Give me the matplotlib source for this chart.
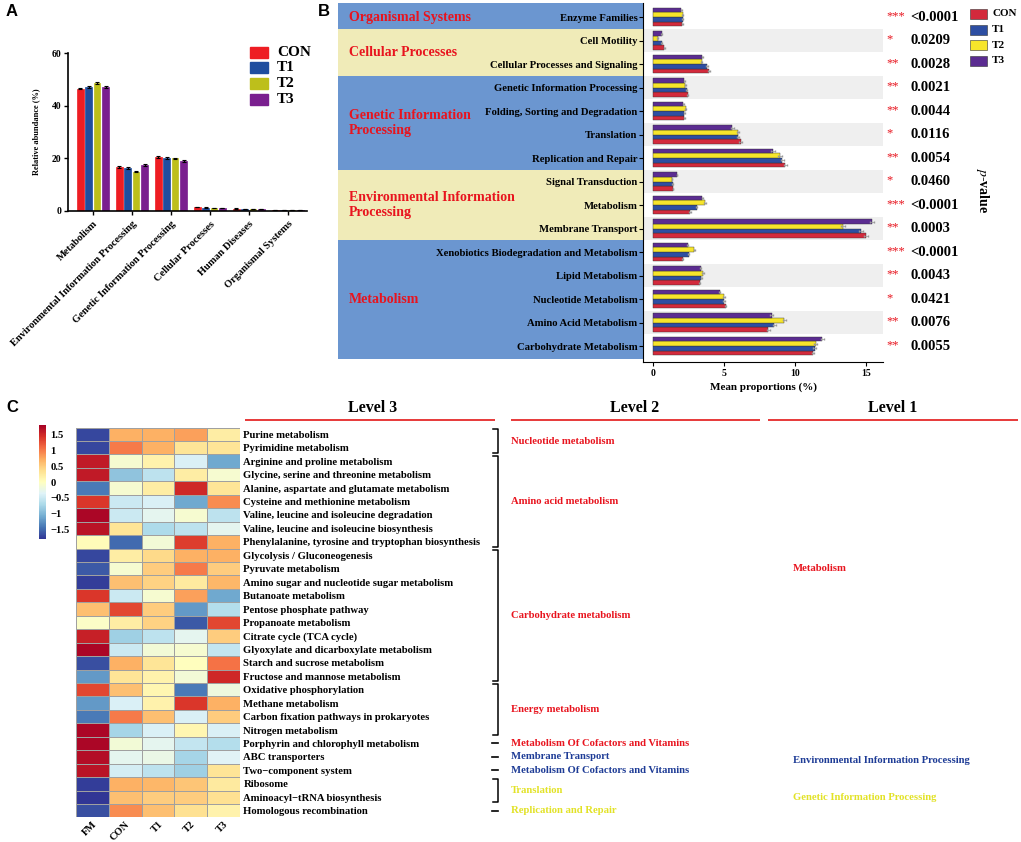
import matplotlib
matplotlib.use('Agg')
import matplotlib.pyplot as plt
import numpy as np
from matplotlib import transforms
from matplotlib.patches import Rectangle

W, H = 1021, 842
plt.rcParams['font.family'] = ['Liberation Serif', 'DejaVu Serif']
plt.rcParams['mathtext.fontset'] = 'stix'
plt.rcParams['axes.unicode_minus'] = True

# ---------------- Panel A data ----------------
groups = ['CON', 'T1', 'T2', 'T3']
a_categories = ['Metabolism', 'Environmental Information Processing',
                'Genetic Information Processing', 'Cellular Processes',
                'Human Diseases', 'Organismal Systems']
a_con = [46.5, 16.7, 20.5, 1.5, 0.9, 0.4]
a_t1 = [47.0, 16.3, 20.1, 1.3, 0.8, 0.4]
a_t2 = [48.5, 15.0, 20.0, 1.1, 0.8, 0.3]
a_t3 = [47.1, 17.5, 19.0, 1.1, 0.8, 0.4]
a_err = [0.3, 0.3, 0.3, 0.1, 0.05, 0.05]
a_colors = ['#EE1D23', '#1F4E9F', '#BDBF1B', '#7A1F8F']

# ---------------- Panel B data ----------------
b_rows = ['Enzyme Families', 'Cell Motility', 'Cellular Processes and Signaling',
          'Genetic Information Processing', 'Folding, Sorting and Degradation',
          'Translation', 'Replication and Repair', 'Signal Transduction',
          'Metabolism', 'Membrane Transport',
          'Xenobiotics Biodegradation and Metabolism', 'Lipid Metabolism',
          'Nucleotide Metabolism', 'Amino Acid Metabolism', 'Carbohydrate Metabolism']
b_con = [2.05, 0.79, 3.95, 2.43, 2.19, 6.17, 9.33, 1.40, 2.60, 15.02, 2.10, 3.29, 5.12, 8.12, 11.26]
b_t1 = [2.10, 0.62, 3.81, 2.36, 2.19, 5.98, 9.10, 1.38, 3.07, 14.67, 2.52, 3.40, 5.00, 8.55, 11.38]
b_t2 = [2.10, 0.33, 3.43, 2.26, 2.31, 5.98, 8.93, 1.33, 3.67, 13.36, 2.90, 3.52, 5.00, 9.24, 11.45]
b_t3 = [2.00, 0.62, 3.48, 2.21, 2.12, 5.57, 8.45, 1.69, 3.48, 15.43, 2.45, 3.36, 4.69, 8.36, 11.93]
b_err = [0.03, 0.03, 0.05, 0.03, 0.03, 0.1, 0.12, 0.03, 0.05, 0.15, 0.03, 0.05, 0.05, 0.1, 0.08]
b_stars = ['***', '*', '**', '**', '**', '*', '**', '*', '***', '**', '***', '**', '*', '**', '**']
b_pvals = ['<0.0001', '0.0209', '0.0028', '0.0021', '0.0044', '0.0116', '0.0054', '0.0460',
           '<0.0001', '0.0003', '<0.0001', '0.0043', '0.0421', '0.0076', '0.0055']
b_levels = ['Organismal Systems', 'Cellular Processes', 'Genetic Information\nProcessing',
            'Environmental Information\nProcessing', 'Metabolism']
b_level_first = [0, 1, 3, 7, 10]
b_level_last = [0, 2, 6, 9, 14]
b_level_colors = ['#6B96D0', '#F0EBB8', '#6B96D0', '#F0EBB8', '#6B96D0']
b_colors = ['#D32A3C', '#2D4EA2', '#F7E52B', '#5B2C91']

# ---------------- Panel C data ----------------
hm_cols = ['FM', 'CON', 'T1', 'T2', 'T3']
hm_rows = ['Purine metabolism', 'Pyrimidine metabolism', 'Arginine and proline metabolism',
           'Glycine, serine and threonine metabolism', 'Alanine, aspartate and glutamate metabolism',
           'Cysteine and methionine metabolism', 'Valine, leucine and isoleucine degradation',
           'Valine, leucine and isoleucine biosynthesis',
           'Phenylalanine, tyrosine and tryptophan biosynthesis', 'Glycolysis / Gluconeogenesis',
           'Pyruvate metabolism', 'Amino sugar and nucleotide sugar metabolism',
           'Butanoate metabolism', 'Pentose phosphate pathway', 'Propanoate metabolism',
           'Citrate cycle (TCA cycle)', 'Glyoxylate and dicarboxylate metabolism',
           'Starch and sucrose metabolism', 'Fructose and mannose metabolism',
           'Oxidative phosphorylation', 'Methane metabolism',
           'Carbon fixation pathways in prokaryotes', 'Nitrogen metabolism',
           'Porphyrin and chlorophyll metabolism', 'ABC transporters',
           'Two\u2212component system', 'Ribosome', 'Aminoacyl\u2212tRNA biosynthesis',
           'Homologous recombination']
hm_values = [
    [-1.70, 0.70, 0.70, 0.80, 0.20],
    [-1.70, 1.00, 0.70, 0.30, 0.30],
    [1.60, -0.10, 0.15, -0.40, -1.10],
    [1.60, -0.90, -0.60, 0.20, -0.10],
    [-1.40, -0.10, 0.20, 1.50, 0.30],
    [1.40, -0.50, -0.40, -1.10, 0.90],
    [1.75, -0.50, -0.30, -0.10, -0.60],
    [1.65, 0.30, -0.70, -0.60, -0.30],
    [0.05, -1.50, -0.15, 1.35, 0.70],
    [-1.70, 0.20, 0.40, 0.70, 0.70],
    [-1.60, -0.10, 0.50, 1.00, 0.50],
    [-1.75, 0.60, 0.45, 0.25, 0.65],
    [1.40, -0.50, -0.10, 0.80, -1.10],
    [0.60, 1.30, 0.50, -1.20, -0.65],
    [-0.05, 0.20, 0.45, -1.60, 1.30],
    [1.55, -0.80, -0.60, -0.30, 0.50],
    [1.75, -0.50, -0.15, -0.10, -0.55],
    [-1.65, 0.70, 0.30, 0.00, 1.05],
    [-1.20, 0.30, 0.15, -0.15, 1.50],
    [1.30, 0.60, 0.10, -1.40, -0.20],
    [-1.20, -0.40, 0.15, 1.40, 0.70],
    [-1.40, 1.00, 0.60, -0.40, 0.50],
    [1.75, -0.75, -0.40, 0.10, -0.40],
    [1.75, -0.15, -0.30, -0.55, -0.65],
    [1.70, -0.30, -0.25, -0.75, -0.35],
    [1.65, -0.45, -0.60, -0.80, 0.30],
    [-1.75, 0.70, 0.65, 0.55, 0.25],
    [-1.80, 0.60, 0.50, 0.50, 0.35],
    [-1.65, 0.90, 0.60, 0.35, 0.15],
]
cb_ticks = [1.5, 1, 0.5, 0, -0.5, -1, -1.5]
lvl2_labels = ['Nucleotide metabolism', 'Amino acid metabolism', 'Carbohydrate metabolism',
               'Energy metabolism', 'Metabolism Of Cofactors and Vitamins', 'Membrane Transport',
               'Metabolism Of Cofactors and Vitamins', 'Translation', 'Replication and Repair']
lvl2_first = [0, 2, 9, 19, 23, 24, 25, 26, 28]
lvl2_last = [1, 8, 18, 22, 23, 24, 25, 27, 28]
lvl2_colors = ['#E8141E'] * 5 + ['#1E3C96', '#1E3C96', '#E2E226', '#E2E226']
lvl1_labels = ['Metabolism', 'Environmental Information Processing', 'Genetic Information Processing']
lvl1_rows = [9.95, 24.3, 27.05]
lvl1_colors = ['#E8141E', '#1E3C96', '#E2E226']

# ---------------- helpers ----------------
def box(x0, y0, x1, y1):
    return [x0 / W, 1 - y1 / H, (x1 - x0) / W, (y1 - y0) / H]

fig = plt.figure(figsize=(W / 100, H / 100), dpi=100)

ov = fig.add_axes([0, 0, 1, 1])
ov.set_xlim(0, W)
ov.set_ylim(H, 0)
ov.axis('off')
ov.set_zorder(10)

sans = ['Liberation Sans', 'DejaVu Sans']
ov.text(12, 12, 'A', fontsize=12, fontweight='bold', family=sans, ha='center', va='center')
ov.text(324, 11, 'B', fontsize=12, fontweight='bold', family=sans, ha='center', va='center')
ov.text(12.5, 408, 'C', fontsize=12, fontweight='bold', family=sans, ha='center', va='center')

# ---------------- Panel A ----------------
axA = fig.add_axes(box(68, 53, 307, 211))
xa = np.arange(len(a_categories))
step = 0.215
for k, (vals, c) in enumerate(zip([a_con, a_t1, a_t2, a_t3], a_colors)):
    axA.bar(xa + (k - 1.5) * step, vals, width=0.17, color=c, edgecolor=c, linewidth=0.5,
            yerr=a_err, error_kw=dict(elinewidth=0.8, capsize=1.5, capthick=0.8, ecolor='black'))
axA.set_xlim(-0.64, 5.49)
axA.set_ylim(0, 60)
axA.set_yticks([0, 20, 40, 60])
axA.set_xticks(xa)
axA.set_xticklabels(a_categories, rotation=45, ha='right', va='top', rotation_mode='anchor',
                    fontsize=7.5, fontweight='bold')
axA.tick_params(axis='y', labelsize=7, width=1, length=3, pad=2)
axA.tick_params(axis='x', width=1, length=3, pad=3)
for t in axA.get_yticklabels():
    t.set_fontweight('bold')
axA.set_ylabel('Relative abundance (%)', fontsize=6, fontweight='bold', labelpad=8)
for s in ['top', 'right']:
    axA.spines[s].set_visible(False)
for s in ['left', 'bottom']:
    axA.spines[s].set_linewidth(1.2)

for k, (g, c) in enumerate(zip(groups, a_colors)):
    yk = 52 + k * 15.7
    ov.add_patch(Rectangle((250, yk - 5.5), 18, 11, facecolor=c, edgecolor=c))
    ov.text(277, yk, g, fontsize=11, fontweight='bold', va='center', ha='left')

# ---------------- Panel B ----------------
nb = len(b_rows)
ylim_b = (14.68, -0.6)
axBL = fig.add_axes(box(338, 3, 643, 362))
axBL.set_ylim(*ylim_b)
axBL.set_xlim(0, 1)
axBL.axis('off')
for lab, f, l, c in zip(b_levels, b_level_first, b_level_last, b_level_colors):
    top = f - 0.5 if f > 0 else ylim_b[1]
    bot = l + 0.5 if l < nb - 1 else 14.55
    axBL.axhspan(top, bot, color=c, lw=0)
    axBL.text(0.035, (f + l) / 2, lab, color='#E8141E', fontsize=10, fontweight='bold',
              ha='left', va='center', linespacing=1.2)

axB = fig.add_axes(box(643, 3, 883, 362))
axB.set_ylim(*ylim_b)
axB.set_xlim(-0.71, 16.2)
yb = np.arange(nb)
for i in yb:
    if i % 2 == 1:
        axB.axhspan(i - 0.5, i + 0.5, color='#EFEFEF', lw=0, zorder=0)
offs = [0.3, 0.1, -0.1, -0.3]
for k, (vals, c) in enumerate(zip([b_con, b_t1, b_t2, b_t3], b_colors)):
    axB.barh(yb + offs[k], vals, height=0.2, color=c, edgecolor='#333333', linewidth=0.3,
             xerr=b_err, error_kw=dict(elinewidth=0.5, capsize=0.8, ecolor='#999999'), zorder=2)
axB.set_yticks(yb)
axB.set_yticklabels(b_rows, fontsize=7.7, fontweight='bold')
axB.tick_params(axis='y', length=3, width=0.8, pad=1)
axB.set_xticks([0, 5, 10, 15])
axB.tick_params(axis='x', length=3, width=0.8, labelsize=7, pad=2)
for t in axB.get_xticklabels():
    t.set_fontweight('bold')
axB.set_xlabel('Mean proportions (%)', fontsize=8, fontweight='bold', labelpad=3)
for s in ['top', 'right']:
    axB.spines[s].set_visible(False)
for s in ['left', 'bottom']:
    axB.spines[s].set_linewidth(0.8)

trB = transforms.blended_transform_factory(fig.transFigure, axB.transData)
for i, (st, pv) in enumerate(zip(b_stars, b_pvals)):
    axB.text(886 / W, i - 0.05, st, transform=trB, color='#E8141E', fontsize=9,
             ha='left', va='center', clip_on=False)
    axB.text(910 / W, i, pv, transform=trB, color='black', fontsize=10.5, fontweight='bold',
             ha='left', va='center', clip_on=False)

for k, (g, c) in enumerate(zip(groups, b_colors)):
    yk = 14 + k * 15.6
    ov.add_patch(Rectangle((970, yk - 5), 17, 10, facecolor=c, edgecolor='#333333', lw=0.4))
    ov.text(992, yk, g, fontsize=8, fontweight='bold', va='center', ha='left')
ov.text(982, 190, r'$p$-value', rotation=270, fontsize=10, fontweight='bold',
        ha='center', va='center')

# ---------------- Panel C ----------------
HM_L, HM_R, HM_T, HM_B = 76, 240, 427.6, 817.4
axC = fig.add_axes(box(HM_L, HM_T, HM_R, HM_B))
vals = np.array(hm_values)
mesh = axC.pcolormesh(vals, cmap='RdYlBu_r', vmin=-1.8, vmax=1.8,
                      edgecolors='#A0A0A0', linewidth=0.7)
nr = len(hm_rows)
axC.set_xlim(0, len(hm_cols))
axC.set_ylim(nr, 0)
axC.set_xticks(np.arange(len(hm_cols)) + 0.6)
axC.set_xticklabels(hm_cols, rotation=45, ha='right', va='center', rotation_mode='anchor',
                    fontsize=7.5, fontweight='bold')
axC.set_yticks(np.arange(nr) + 0.5)
axC.set_yticklabels(hm_rows, fontsize=7.7, fontweight='bold')
axC.yaxis.tick_right()
axC.tick_params(axis='y', length=0, pad=2.5)
axC.tick_params(axis='x', length=0, pad=4)
for s in axC.spines.values():
    s.set_visible(False)

cax = fig.add_axes(box(39, 425, 46, 539))
cb = fig.colorbar(mesh, cax=cax, ticks=cb_ticks)
cb.outline.set_visible(False)
cb.ax.tick_params(length=0, labelsize=7.7, pad=3)
cb.ax.set_yticklabels([('%g' % t).replace('-', '\u2212') for t in cb_ticks], fontweight='bold')

# level headers
ov.text(373, 408, 'Level 3', fontsize=11.5, fontweight='bold', ha='center', va='center')
ov.text(635, 408, 'Level 2', fontsize=11.5, fontweight='bold', ha='center', va='center')
ov.text(893, 408, 'Level 1', fontsize=11.5, fontweight='bold', ha='center', va='center')
for x0, x1 in [(245, 495), (511, 760), (768, 1018)]:
    ov.plot([x0, x1], [419.5, 419.5], color='#E52A2A', lw=1.3, solid_capstyle='butt')

rh = (HM_B - HM_T) / nr
def row_y(r):
    return HM_T + (r + 0.5) * rh

BX = 498
for lab, f, l, c in zip(lvl2_labels, lvl2_first, lvl2_last, lvl2_colors):
    if f == l:
        yc = row_y(f)
        ov.plot([BX - 6, BX], [yc, yc], color='black', lw=1.2)
    else:
        y0 = HM_T + f * rh + 1.5
        y1 = HM_T + (l + 1) * rh - 1.5
        ov.plot([BX - 5, BX, BX, BX - 5], [y0, y0, y1, y1], color='black', lw=1.1)
    ov.text(511, row_y((f + l) / 2), lab, color=c, fontsize=7.7, fontweight='bold',
            ha='left', va='center')

for lab, r, c in zip(lvl1_labels, lvl1_rows, lvl1_colors):
    ov.text(793, row_y(r), lab, color=c, fontsize=7.7, fontweight='bold', ha='left', va='center')

fig.savefig('out.png', dpi=100)
